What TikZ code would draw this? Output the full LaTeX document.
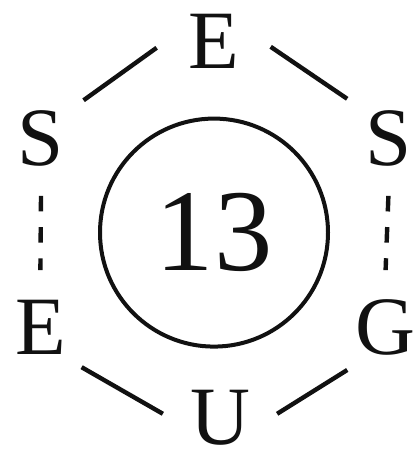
\documentclass[tikz,border=0pt]{standalone}
\usepackage{fontspec}
\setmainfont{Liberation Serif}
\definecolor{ink}{HTML}{111111}
\tikzset{
  letter/.style={
    circle,
    inner sep=0pt,
    minimum size=2.85cm,
    text=ink,
    font=\fontsize{59}{60}\selectfont
  },
  link/.style={
    line width=0.11cm,
    draw=ink
  },
  dashlink/.style={
    link,
    dash pattern=on 0.39cm off 0.39cm
  },
  ring/.style={
    circle,
    draw=ink,
    line width=0.1cm,
    minimum size=5.7cm,
    inner sep=0pt,
    text=ink,
    font=\fontsize{83}{84}\selectfont
  }
}
\begin{document}
\begin{tikzpicture}
  \useasboundingbox[fill=white] (0,0) rectangle (10.35,11.375);
  \node[ring] (num) at (5.35,5.56) {13};

  \node[letter] (etop) at (5.34,10.33) {E};
  \node[letter] (sleft) at (1.025,7.91) {S};
  \node[letter] (sright) at (9.71,7.91) {S};
  \node[letter] (eleft) at (1.01,3.19) {E};
  \node[letter] (gright) at (9.64,3.19) {G};
  \node[letter] (ubot) at (5.5,0.93) {U};

  \draw[link] (sleft.42) -- (etop.186);
  \draw[link] (etop.-5) -- (sright.136);
  \draw[link] (eleft.-44) -- (ubot.176);
  \draw[link] (ubot.4) -- (gright.228);
  \draw[dashlink] (sleft.270) -- (eleft.90);
  \draw[dashlink] (sright.270) -- (gright.90);
\end{tikzpicture}
\end{document}
